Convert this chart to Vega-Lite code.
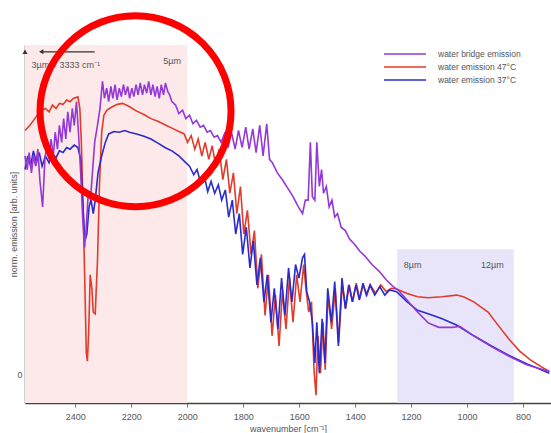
{
"$schema":"https://vega.github.io/schema/vega-lite/v6.json",
"width":526,"height":358,
"autosize":"none",
"padding":{"left":25,"top":45,"right":0,"bottom":30},
"config":{"view":{"stroke":null},"font":"Liberation Sans"},
"datasets":{
"red":[{"wn":2580,"v":0.718},{"wn":2563,"v":0.733},{"wn":2545,"v":0.753},{"wn":2532,"v":0.768},{"wn":2519,"v":0.778},{"wn":2507,"v":0.783},{"wn":2494,"v":0.773},{"wn":2482,"v":0.793},{"wn":2469,"v":0.783},{"wn":2457,"v":0.798},{"wn":2444,"v":0.795},{"wn":2431,"v":0.808},{"wn":2419,"v":0.803},{"wn":2406,"v":0.813},{"wn":2391,"v":0.817},{"wn":2384,"v":0.783},{"wn":2379,"v":0.693},{"wn":2373,"v":0.513},{"wn":2366,"v":0.263},{"wn":2361,"v":0.063},{"wn":2357,"v":0.038},{"wn":2352,"v":0.133},{"wn":2347,"v":0.293},{"wn":2341,"v":0.253},{"wn":2336,"v":0.183},{"wn":2329,"v":0.178},{"wn":2321,"v":0.333},{"wn":2314,"v":0.553},{"wn":2306,"v":0.713},{"wn":2298,"v":0.763},{"wn":2287,"v":0.778},{"wn":2268,"v":0.788},{"wn":2250,"v":0.795},{"wn":2231,"v":0.798},{"wn":2206,"v":0.788},{"wn":2181,"v":0.775},{"wn":2155,"v":0.765},{"wn":2130,"v":0.753},{"wn":2105,"v":0.745},{"wn":2080,"v":0.735},{"wn":2055,"v":0.725},{"wn":2030,"v":0.715},{"wn":2011,"v":0.708},{"wn":1999,"v":0.683},{"wn":1986,"v":0.703},{"wn":1973,"v":0.663},{"wn":1961,"v":0.693},{"wn":1948,"v":0.643},{"wn":1936,"v":0.683},{"wn":1923,"v":0.633},{"wn":1911,"v":0.673},{"wn":1898,"v":0.613},{"wn":1886,"v":0.663},{"wn":1873,"v":0.573},{"wn":1860,"v":0.633},{"wn":1848,"v":0.533},{"wn":1835,"v":0.593},{"wn":1823,"v":0.473},{"wn":1810,"v":0.553},{"wn":1798,"v":0.413},{"wn":1785,"v":0.483},{"wn":1772,"v":0.353},{"wn":1760,"v":0.423},{"wn":1748,"v":0.253},{"wn":1735,"v":0.353},{"wn":1722,"v":0.173},{"wn":1710,"v":0.293},{"wn":1697,"v":0.113},{"wn":1685,"v":0.233},{"wn":1672,"v":0.083},{"wn":1660,"v":0.243},{"wn":1647,"v":0.133},{"wn":1635,"v":0.283},{"wn":1622,"v":0.153},{"wn":1609,"v":0.293},{"wn":1597,"v":0.213},{"wn":1584,"v":0.323},{"wn":1576,"v":0.253},{"wn":1566,"v":0.183},{"wn":1556,"v":0.213},{"wn":1547,"v":0.013},{"wn":1540,"v":-0.062},{"wn":1533,"v":0.113},{"wn":1524,"v":0.003},{"wn":1515,"v":0.153},{"wn":1507,"v":0.013},{"wn":1497,"v":0.233},{"wn":1484,"v":0.133},{"wn":1471,"v":0.253},{"wn":1459,"v":0.093},{"wn":1446,"v":0.263},{"wn":1434,"v":0.193},{"wn":1421,"v":0.263},{"wn":1409,"v":0.213},{"wn":1396,"v":0.268},{"wn":1384,"v":0.223},{"wn":1371,"v":0.263},{"wn":1358,"v":0.233},{"wn":1346,"v":0.263},{"wn":1327,"v":0.238},{"wn":1308,"v":0.263},{"wn":1289,"v":0.243},{"wn":1271,"v":0.253},{"wn":1252,"v":0.251},{"wn":1214,"v":0.238},{"wn":1177,"v":0.228},{"wn":1139,"v":0.225},{"wn":1089,"v":0.228},{"wn":1038,"v":0.233},{"wn":1013,"v":0.228},{"wn":976,"v":0.213},{"wn":925,"v":0.183},{"wn":888,"v":0.143},{"wn":850,"v":0.103},{"wn":812,"v":0.068},{"wn":775,"v":0.043},{"wn":737,"v":0.023},{"wn":706,"v":0.008}],
"blue":[{"wn":2580,"v":0.603},{"wn":2570,"v":0.643},{"wn":2560,"v":0.613},{"wn":2550,"v":0.658},{"wn":2539,"v":0.623},{"wn":2529,"v":0.653},{"wn":2519,"v":0.613},{"wn":2507,"v":0.643},{"wn":2494,"v":0.623},{"wn":2482,"v":0.648},{"wn":2469,"v":0.638},{"wn":2457,"v":0.658},{"wn":2444,"v":0.653},{"wn":2431,"v":0.668},{"wn":2419,"v":0.663},{"wn":2404,"v":0.675},{"wn":2391,"v":0.668},{"wn":2381,"v":0.633},{"wn":2374,"v":0.513},{"wn":2366,"v":0.393},{"wn":2359,"v":0.413},{"wn":2351,"v":0.493},{"wn":2344,"v":0.513},{"wn":2336,"v":0.473},{"wn":2329,"v":0.513},{"wn":2319,"v":0.593},{"wn":2306,"v":0.643},{"wn":2293,"v":0.683},{"wn":2281,"v":0.708},{"wn":2262,"v":0.715},{"wn":2243,"v":0.713},{"wn":2224,"v":0.718},{"wn":2206,"v":0.713},{"wn":2181,"v":0.708},{"wn":2155,"v":0.701},{"wn":2130,"v":0.693},{"wn":2105,"v":0.681},{"wn":2080,"v":0.668},{"wn":2055,"v":0.658},{"wn":2030,"v":0.643},{"wn":2011,"v":0.628},{"wn":1992,"v":0.613},{"wn":1977,"v":0.588},{"wn":1965,"v":0.603},{"wn":1952,"v":0.563},{"wn":1940,"v":0.588},{"wn":1927,"v":0.538},{"wn":1915,"v":0.568},{"wn":1902,"v":0.533},{"wn":1889,"v":0.558},{"wn":1877,"v":0.513},{"wn":1864,"v":0.543},{"wn":1852,"v":0.463},{"wn":1839,"v":0.513},{"wn":1827,"v":0.413},{"wn":1814,"v":0.473},{"wn":1802,"v":0.353},{"wn":1789,"v":0.433},{"wn":1776,"v":0.313},{"wn":1764,"v":0.393},{"wn":1751,"v":0.263},{"wn":1739,"v":0.343},{"wn":1726,"v":0.213},{"wn":1714,"v":0.293},{"wn":1701,"v":0.153},{"wn":1689,"v":0.253},{"wn":1676,"v":0.133},{"wn":1663,"v":0.283},{"wn":1651,"v":0.173},{"wn":1638,"v":0.313},{"wn":1626,"v":0.213},{"wn":1613,"v":0.323},{"wn":1601,"v":0.283},{"wn":1588,"v":0.343},{"wn":1581,"v":0.353},{"wn":1573,"v":0.243},{"wn":1563,"v":0.213},{"wn":1553,"v":0.153},{"wn":1544,"v":0.033},{"wn":1537,"v":0.153},{"wn":1528,"v":0.003},{"wn":1518,"v":0.163},{"wn":1508,"v":0.033},{"wn":1498,"v":0.253},{"wn":1485,"v":0.153},{"wn":1473,"v":0.273},{"wn":1460,"v":0.083},{"wn":1447,"v":0.283},{"wn":1435,"v":0.193},{"wn":1423,"v":0.263},{"wn":1410,"v":0.213},{"wn":1397,"v":0.263},{"wn":1385,"v":0.218},{"wn":1372,"v":0.268},{"wn":1360,"v":0.233},{"wn":1347,"v":0.263},{"wn":1330,"v":0.233},{"wn":1312,"v":0.258},{"wn":1294,"v":0.233},{"wn":1277,"v":0.248},{"wn":1252,"v":0.243},{"wn":1214,"v":0.213},{"wn":1177,"v":0.188},{"wn":1139,"v":0.178},{"wn":1089,"v":0.163},{"wn":1038,"v":0.145},{"wn":976,"v":0.113},{"wn":913,"v":0.083},{"wn":850,"v":0.055},{"wn":787,"v":0.031},{"wn":706,"v":0.003}],
"purple":[{"wn":2580,"v":0.643},{"wn":2572,"v":0.603},{"wn":2565,"v":0.653},{"wn":2557,"v":0.593},{"wn":2550,"v":0.643},{"wn":2542,"v":0.613},{"wn":2534,"v":0.663},{"wn":2527,"v":0.573},{"wn":2517,"v":0.493},{"wn":2509,"v":0.633},{"wn":2502,"v":0.673},{"wn":2494,"v":0.633},{"wn":2487,"v":0.693},{"wn":2479,"v":0.643},{"wn":2472,"v":0.713},{"wn":2464,"v":0.663},{"wn":2457,"v":0.733},{"wn":2449,"v":0.683},{"wn":2442,"v":0.753},{"wn":2434,"v":0.693},{"wn":2427,"v":0.773},{"wn":2419,"v":0.713},{"wn":2411,"v":0.783},{"wn":2404,"v":0.733},{"wn":2396,"v":0.803},{"wn":2389,"v":0.713},{"wn":2381,"v":0.593},{"wn":2374,"v":0.463},{"wn":2367,"v":0.373},{"wn":2361,"v":0.433},{"wn":2354,"v":0.533},{"wn":2346,"v":0.513},{"wn":2339,"v":0.593},{"wn":2331,"v":0.683},{"wn":2321,"v":0.733},{"wn":2312,"v":0.783},{"wn":2303,"v":0.863},{"wn":2296,"v":0.813},{"wn":2288,"v":0.843},{"wn":2281,"v":0.803},{"wn":2273,"v":0.848},{"wn":2266,"v":0.813},{"wn":2258,"v":0.853},{"wn":2251,"v":0.808},{"wn":2243,"v":0.843},{"wn":2236,"v":0.818},{"wn":2228,"v":0.853},{"wn":2221,"v":0.823},{"wn":2213,"v":0.848},{"wn":2206,"v":0.813},{"wn":2198,"v":0.843},{"wn":2191,"v":0.818},{"wn":2183,"v":0.853},{"wn":2176,"v":0.823},{"wn":2168,"v":0.858},{"wn":2160,"v":0.823},{"wn":2153,"v":0.853},{"wn":2145,"v":0.828},{"wn":2138,"v":0.863},{"wn":2130,"v":0.823},{"wn":2123,"v":0.853},{"wn":2115,"v":0.818},{"wn":2108,"v":0.848},{"wn":2100,"v":0.813},{"wn":2093,"v":0.853},{"wn":2085,"v":0.823},{"wn":2078,"v":0.858},{"wn":2070,"v":0.833},{"wn":2063,"v":0.823},{"wn":2055,"v":0.803},{"wn":2042,"v":0.793},{"wn":2030,"v":0.768},{"wn":2017,"v":0.778},{"wn":2005,"v":0.753},{"wn":1992,"v":0.763},{"wn":1980,"v":0.738},{"wn":1967,"v":0.748},{"wn":1954,"v":0.728},{"wn":1942,"v":0.733},{"wn":1929,"v":0.713},{"wn":1917,"v":0.718},{"wn":1904,"v":0.698},{"wn":1892,"v":0.703},{"wn":1879,"v":0.683},{"wn":1867,"v":0.708},{"wn":1854,"v":0.668},{"wn":1842,"v":0.713},{"wn":1829,"v":0.663},{"wn":1817,"v":0.718},{"wn":1804,"v":0.668},{"wn":1791,"v":0.728},{"wn":1779,"v":0.663},{"wn":1766,"v":0.723},{"wn":1754,"v":0.653},{"wn":1741,"v":0.733},{"wn":1729,"v":0.643},{"wn":1716,"v":0.738},{"wn":1706,"v":0.633},{"wn":1696,"v":0.623},{"wn":1678,"v":0.593},{"wn":1660,"v":0.573},{"wn":1641,"v":0.548},{"wn":1622,"v":0.523},{"wn":1603,"v":0.493},{"wn":1588,"v":0.473},{"wn":1578,"v":0.513},{"wn":1568,"v":0.513},{"wn":1560,"v":0.683},{"wn":1553,"v":0.523},{"wn":1544,"v":0.513},{"wn":1537,"v":0.683},{"wn":1528,"v":0.553},{"wn":1520,"v":0.603},{"wn":1513,"v":0.533},{"wn":1503,"v":0.553},{"wn":1493,"v":0.493},{"wn":1483,"v":0.513},{"wn":1473,"v":0.463},{"wn":1463,"v":0.473},{"wn":1450,"v":0.433},{"wn":1435,"v":0.423},{"wn":1420,"v":0.398},{"wn":1402,"v":0.383},{"wn":1384,"v":0.363},{"wn":1365,"v":0.348},{"wn":1340,"v":0.323},{"wn":1314,"v":0.303},{"wn":1289,"v":0.278},{"wn":1264,"v":0.258},{"wn":1246,"v":0.248},{"wn":1214,"v":0.218},{"wn":1177,"v":0.183},{"wn":1139,"v":0.151},{"wn":1101,"v":0.138},{"wn":1051,"v":0.138},{"wn":1026,"v":0.141},{"wn":976,"v":0.113},{"wn":913,"v":0.081},{"wn":850,"v":0.053},{"wn":787,"v":0.028},{"wn":706,"v":0.008}],
"labels":[{"t":"3µm = 3333 cm⁻¹","wn":2557,"v":0.912},{"t":"5µm","wn":2086,"v":0.922},{"t":"8µm","wn":1226,"v":0.321},{"t":"12µm","wn":950,"v":0.321}]
},
"layer":[
{"data":{"values":[{"a":2580,"b":2000,"lo":-0.085,"hi":0.97}]},"mark":{"type":"rect","color":"#fde9e9"},"encoding":{"x":{"field":"a","type":"quantitative"},"x2":{"field":"b"},"y":{"field":"lo","type":"quantitative"},"y2":{"field":"hi"}}},
{"data":{"values":[{"a":1250,"b":833,"lo":-0.085,"hi":0.368}]},"mark":{"type":"rect","color":"#e8e5fb"},"encoding":{"x":{"field":"a","type":"quantitative"},"x2":{"field":"b"},"y":{"field":"lo","type":"quantitative"},"y2":{"field":"hi"}}},
{"data":{"name":"red"},"mark":{"type":"line","strokeWidth":1.6},"encoding":{"x":{"field":"wn","type":"quantitative"},"y":{"field":"v","type":"quantitative"},"color":{"datum":"water emission 47°C"}}},
{"data":{"name":"blue"},"mark":{"type":"line","strokeWidth":1.6},"encoding":{"x":{"field":"wn","type":"quantitative"},"y":{"field":"v","type":"quantitative"},"color":{"datum":"water emission 37°C"}}},
{"data":{"name":"purple"},"mark":{"type":"line","strokeWidth":1.6},"encoding":{"x":{"field":"wn","type":"quantitative"},"y":{"field":"v","type":"quantitative"},"color":{"datum":"water bridge emission"}}},
{"data":{"name":"labels"},"mark":{"type":"text","align":"left","baseline":"middle","fontSize":9,"color":"#555"},"encoding":{"x":{"field":"wn","type":"quantitative"},"y":{"field":"v","type":"quantitative"},"text":{"field":"t"}}},
{"data":{"values":[{"a":2522,"b":2331,"v":0.95}]},"mark":{"type":"rule","color":"#333","strokeWidth":1.2},"encoding":{"x":{"field":"a","type":"quantitative"},"x2":{"field":"b"},"y":{"field":"v","type":"quantitative"}}},
{"data":{"values":[{"a":2522,"v":0.95}]},"mark":{"type":"point","shape":"triangle-left","filled":true,"color":"#333","size":25,"opacity":1},"encoding":{"x":{"field":"a","type":"quantitative"},"y":{"field":"v","type":"quantitative"}}},
{"data":{"values":[{"a":2580,"v":0.95}]},"mark":{"type":"point","shape":"triangle-up","filled":true,"color":"#333","size":25,"opacity":1},"encoding":{"x":{"field":"a","type":"quantitative"},"y":{"field":"v","type":"quantitative"}}},
{"data":{"values":[{"a":2185,"v":0.775}]},"mark":{"type":"point","shape":"circle","filled":false,"color":"#ff0000","size":36481,"strokeWidth":7,"opacity":1},"encoding":{"x":{"field":"a","type":"quantitative"},"y":{"field":"v","type":"quantitative"}}}
],
"resolve":{"scale":{"x":"shared","y":"shared"}},
"encoding":{
"x":{"scale":{"domain":[700,2580],"reverse":true,"nice":false,"zero":false},"axis":{"values":[2400,2200,2000,1800,1600,1400,1200,1000,800],"format":"d","title":"wavenumber [cm⁻¹]","grid":false,"labelFontSize":9,"titleFontSize":9,"titleFontWeight":"normal","labelColor":"#555","titleColor":"#555","tickSize":4,"labelPadding":5,"titlePadding":3,"domainColor":"#444","domainWidth":1.5,"tickColor":"#777"}},
"y":{"scale":{"domain":[-0.085,0.97],"nice":false,"zero":false},"axis":{"values":[0],"title":"norm. emission  [arb. units]","grid":false,"labelFontSize":9,"titleFontSize":9,"titleFontWeight":"normal","labelColor":"#555","titleColor":"#555","tickSize":0,"labelPadding":3,"titlePadding":-2,"domainColor":"#444","domainWidth":1.5}},
"color":{"scale":{"domain":["water bridge emission","water emission 47°C","water emission 37°C"],"range":["#9438d8","#e23b2b","#2b2bcc"]},"legend":{"title":null,"orient":"none","legendX":374,"legendY":3,"symbolType":"M-4.2,0H4.2","symbolSize":100,"symbolStrokeWidth":1.6,"labelFontSize":8.5,"labelColor":"#555","labelOffset":27,"padding":0,"rowPadding":2}}
}
}
